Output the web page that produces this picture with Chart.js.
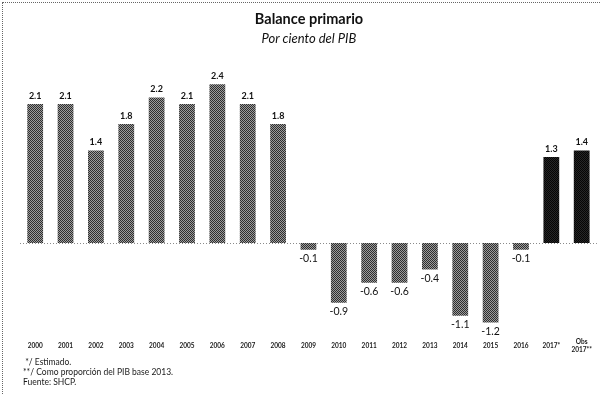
<!DOCTYPE html>
<html>
<head>
<meta charset="utf-8">
<script src="https://cdn.jsdelivr.net/npm/chart.js@4"></script>
<style>
  body { margin: 0; background: #fff; font-family: Lato, "Open Sans", sans-serif; }
  #wrap { position: relative; width: 600px; height: 394px; overflow: hidden; }
  #frame { position: absolute; left: 2px; top: 2px; right: 0; bottom: 0;
           border-top: 1px dotted #666; border-left: 1px dotted #666; pointer-events: none; }
  #title { position: absolute; left: 209px; width: 200px; top: 10px; text-align: center;
           font-weight: bold; font-size: 14.5px; color: #111; }
  #subtitle { position: absolute; left: 209px; width: 200px; top: 30px; text-align: center;
              font-style: italic; font-size: 13px; color: #111; }
  #notes { position: absolute; left: 23px; top: 357px; font-size: 8.5px; line-height: 10px; color: #1a1a1a; }
  canvas { position: absolute; left: 0; top: 0; }
</style>
</head>
<body>
<div id="wrap">
  <canvas id="balanceChart" width="600" height="394"></canvas>
  <div id="frame"></div>
  <div id="title">Balance primario</div>
  <div id="subtitle">Por ciento del PIB</div>
  <div id="notes">
    <div>&nbsp;*/ Estimado.</div>
    <div>**/ Como proporción del PIB base 2013.</div>
    <div>Fuente: SHCP.</div>
  </div>
</div>
<script>
// Años y balance primario (% del PIB)
const years = ['2000', '2001', '2002', '2003', '2004', '2005', '2006', '2007', '2008',
               '2009', '2010', '2011', '2012', '2013', '2014', '2015', '2016',
               '2017*', ['Obs', '2017**']];
const balance = [2.1, 2.1, 1.4, 1.8, 2.2, 2.1, 2.4, 2.1, 1.8,
                 -0.1, -0.9, -0.6, -0.6, -0.4, -1.1, -1.2, -0.1,
                 1.3, 1.4];
// los dos últimos son estimados, en tono oscuro
const estimatedFrom = 17;

// Trama de puntos para imitar el tramado de impresión
function makePattern(dark, light) {
  const c = document.createElement('canvas');
  c.width = 2;
  c.height = 2;
  const g = c.getContext('2d');
  g.fillStyle = light;
  g.fillRect(0, 0, 2, 2);
  g.fillStyle = dark;
  g.fillRect(0, 0, 1, 1);
  g.fillRect(1, 1, 1, 1);
  return g.createPattern(c, 'repeat');
}

const ctx = document.getElementById('balanceChart').getContext('2d');
const grayFill = makePattern('#2e2e2e', '#9c9c9c');
const blackFill = makePattern('#050505', '#262626');

// Línea punteada en el cero
const zeroLine = {
  id: 'zeroLine',
  beforeDatasetsDraw(chart) {
    const y = chart.scales.y.getPixelForValue(0);
    const area = chart.chartArea;
    const c = chart.ctx;
    c.save();
    c.strokeStyle = '#8a8a8a';
    c.lineWidth = 1;
    c.setLineDash([1, 2]);
    c.beginPath();
    c.moveTo(area.left, Math.round(y) + 0.5);
    c.lineTo(area.right, Math.round(y) + 0.5);
    c.stroke();
    c.restore();
  }
};

// Etiquetas de valor sobre / bajo cada barra
const valueLabels = {
  id: 'valueLabels',
  afterDatasetsDraw(chart) {
    const c = chart.ctx;
    const meta = chart.getDatasetMeta(0);
    c.save();
    c.textAlign = 'center';
    c.textBaseline = 'middle';
    c.fillStyle = '#111';
    meta.data.forEach((bar, i) => {
      const v = balance[i];
      if (v >= 0) {
        c.font = 'bold 9px Lato, sans-serif';
        c.fillText(v.toFixed(1), bar.x, bar.y - 8);
      } else {
        c.font = '10.5px Lato, sans-serif';
        c.fillText(v.toFixed(1), bar.x, bar.y + 9);
      }
    });
    c.restore();
  }
};

new Chart(ctx, {
  type: 'bar',
  data: {
    labels: years,
    datasets: [{
      data: balance,
      backgroundColor: balance.map((v, i) => i >= estimatedFrom ? blackFill : grayFill),
      borderWidth: 0,
      barPercentage: 0.52,
      categoryPercentage: 1
    }]
  },
  options: {
    responsive: false,
    animation: false,
    devicePixelRatio: 1,
    layout: { padding: { left: 20, right: 0, top: 71, bottom: 28 } },
    plugins: {
      legend: { display: false },
      tooltip: { enabled: false }
    },
    scales: {
      x: {
        grid: { display: false, drawTicks: false },
        border: { display: false },
        ticks: {
          color: '#1a1a1a',
          font: { family: 'Lato, sans-serif', size: 6.5, weight: 'bold' },
          padding: 8,
          crossAlign: 'center',
          maxRotation: 0,
          autoSkip: false
        }
      },
      y: {
        display: false,
        min: -1.38,
        max: 2.6
      }
    }
  },
  plugins: [zeroLine, valueLabels]
});
</script>
</body>
</html>
